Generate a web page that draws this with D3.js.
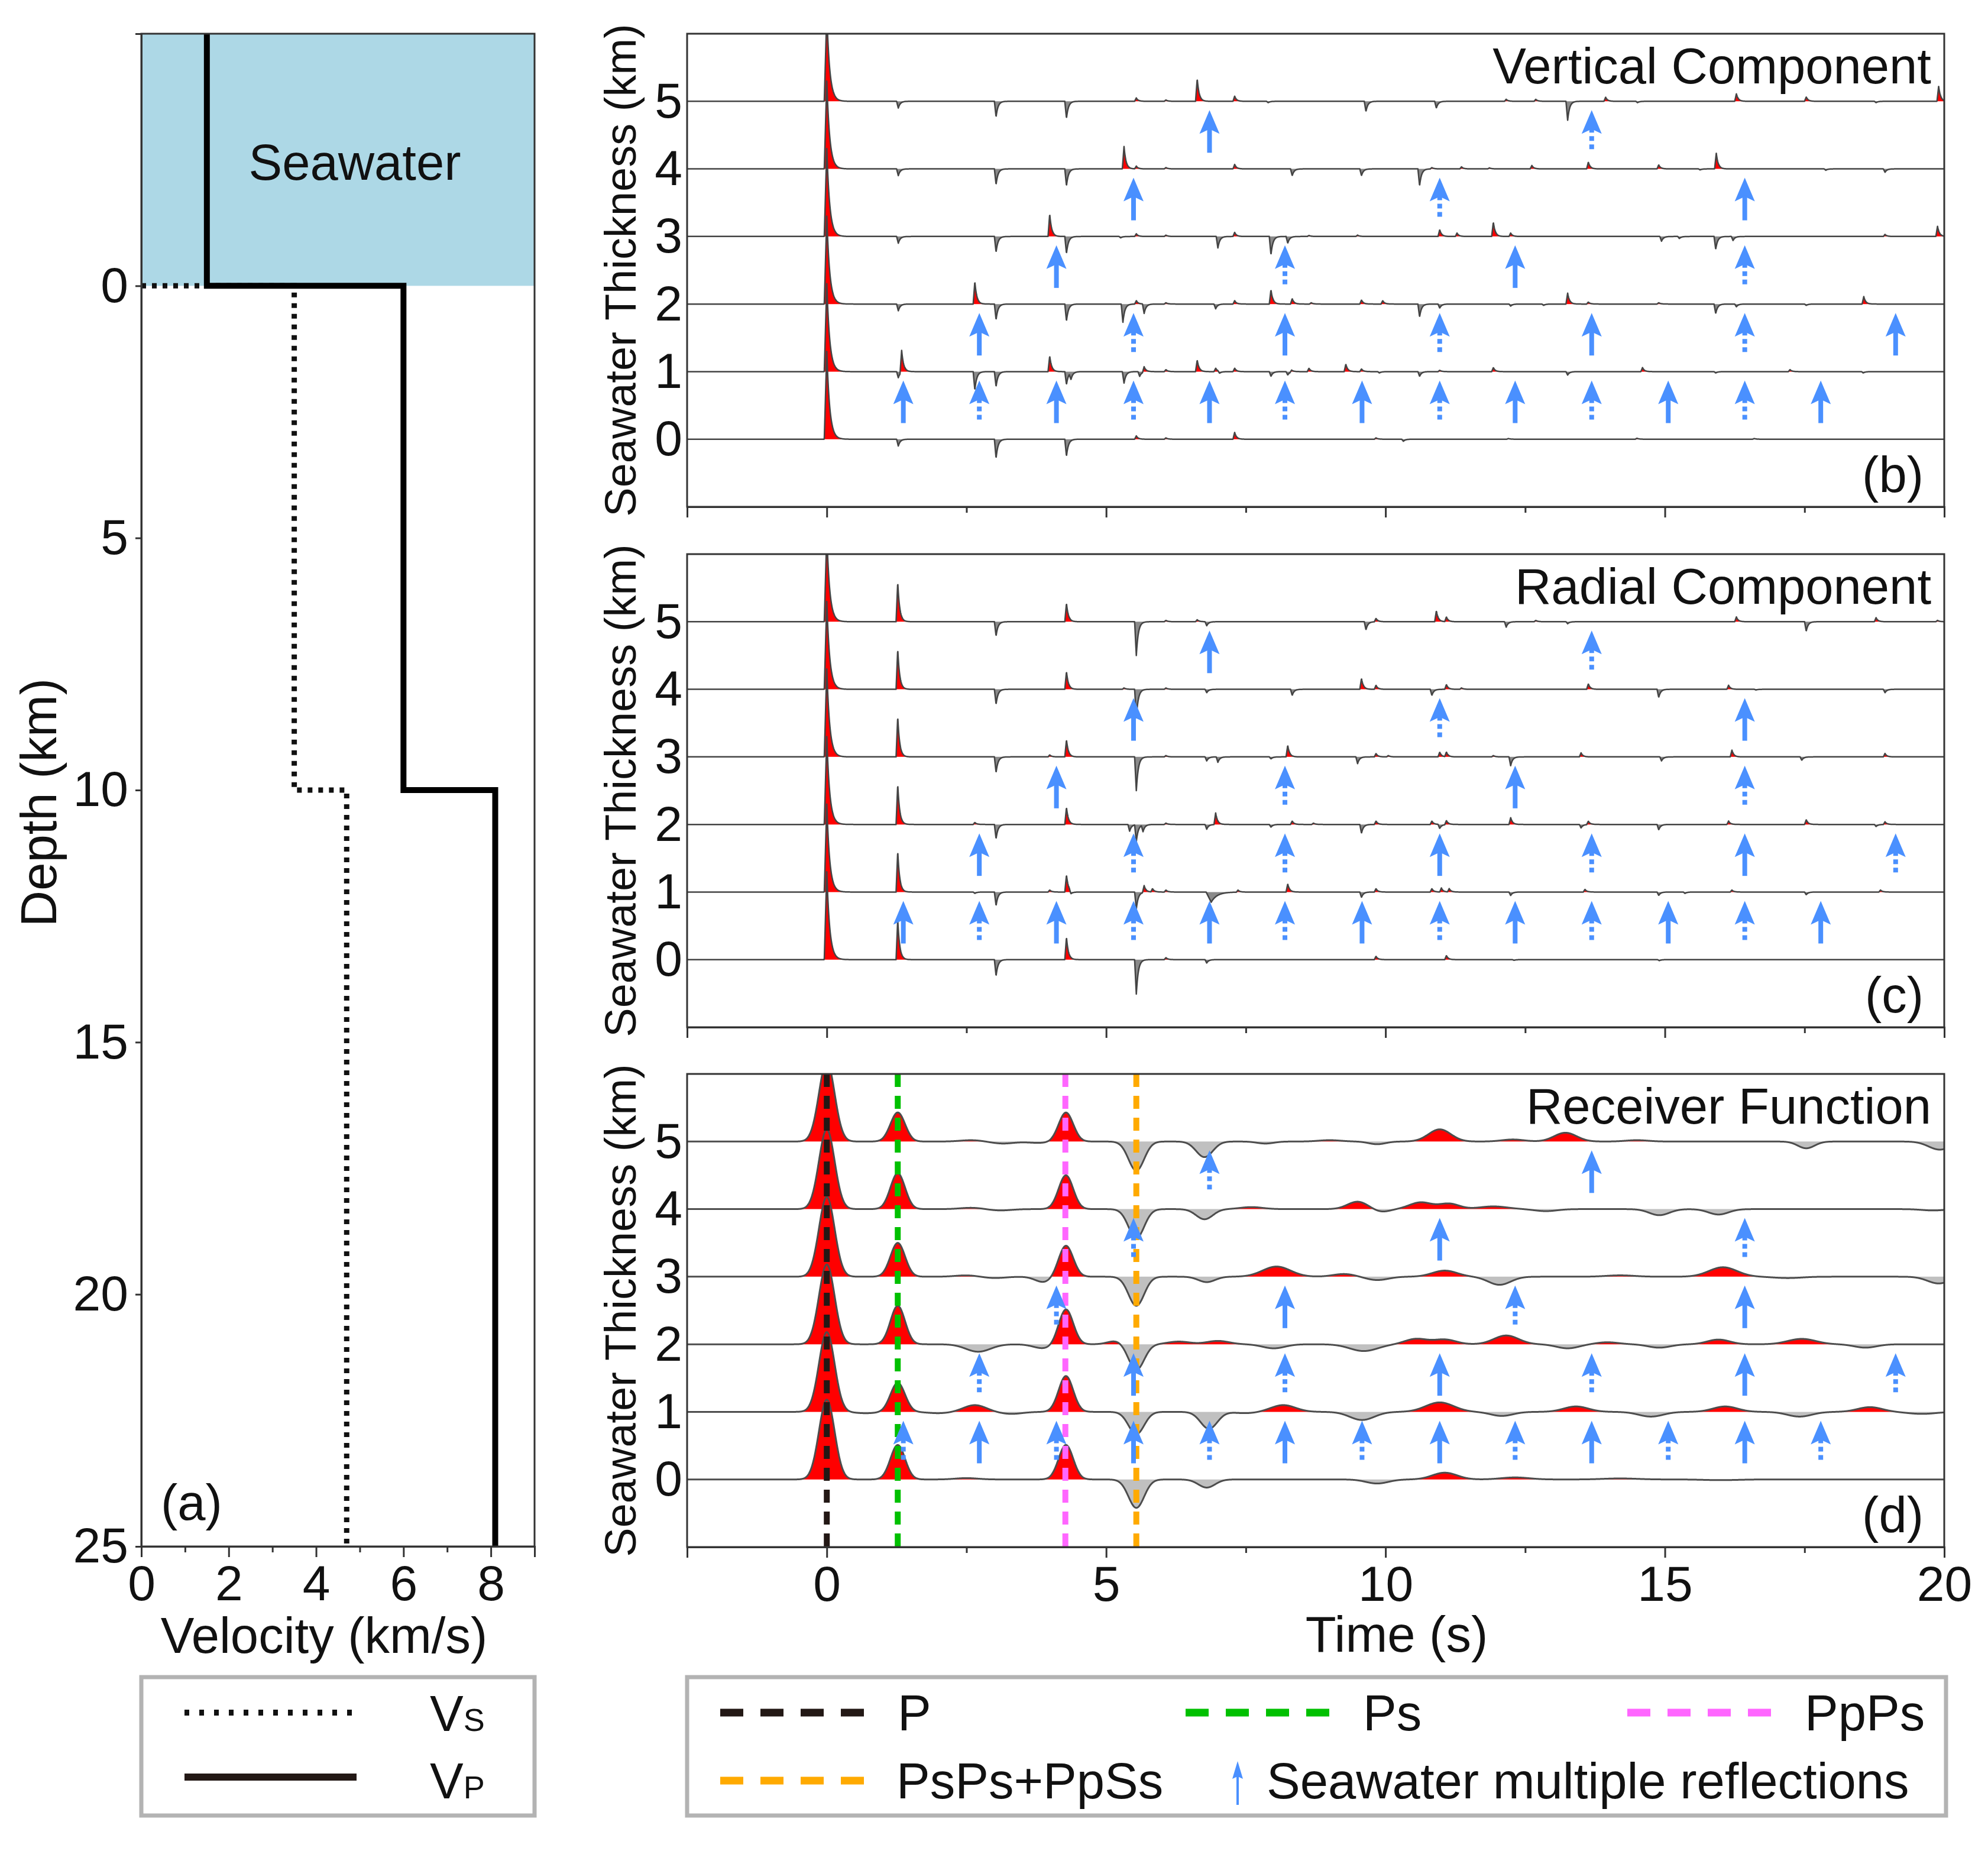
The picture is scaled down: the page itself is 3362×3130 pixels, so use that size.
<!DOCTYPE html>
<html>
<head>
<meta charset="utf-8">
<script src="https://cdn.jsdelivr.net/npm/d3@7"></script>
<style>
body{margin:0;background:#fff}
text{font-family:"Liberation Sans",Arial,sans-serif;fill:#111}
</style>
</head>
<body>
<div id="fig"></div>
<script>
// ---- data ----
var thickness = [0, 1, 2, 3, 4, 5]
var timeTicks = [0, 5, 10, 15, 20]
var timeMinor = [-2.5, 2.5, 7.5, 12.5, 17.5]
var depthTicks = [0, 5, 10, 15, 20, 25]
var velTicks = [0, 2, 4, 6, 8]
var velMinor = [1, 3, 5, 7, 9]

// velocity model (a)
var layerTop = [-5, 0, 10]
var layerBottom = [0, 10, 25]
var vpLayers = [1.5, 6.0, 8.1]
var vsLayers = [0, 3.5, 4.7]

// marked phases in (d)
var phaseNames = ["P", "Ps", "PpPs", "PsPs+PpSs"]
var phaseTimes = [0, 1.27, 4.27, 5.54]

// arrivals [time (s), amplitude, width factor] for seawater thickness 0..5 km
var verticalTraces = [
	[[0,1.3,1.5],[1.28,-0.1],[3.03,-0.28],[4.29,-0.25],[5.54,0.05],[6.07,0.02],[7.3,0.1],[9.83,0.02],[10.32,-0.03],[12.2,0.01],[14.5,0.015],[16.6,0.01]],
	[[0,1.3,1.5],[1.28,-0.09],[1.34,0.33],[2.65,-0.27],[3.03,-0.22],[3.99,0.23],[4.29,-0.19],[4.37,-0.1],[5.32,-0.17],[5.6,-0.07],[5.68,0.08],[6.07,0.03],[6.63,0.17],[6.96,0.05],[7.03,-0.03],[7.3,0.05],[7.95,-0.07],[8.25,-0.05],[8.32,0.03],[8.63,0.05],[9.29,0.11],[9.57,0.04],[9.89,-0.02],[10.61,-0.07],[10.97,0.02],[11.93,0.06],[13.26,-0.05],[14.6,0.06],[15.91,-0.02],[17.24,0.03],[18.55,-0.02]],
	[[0,1.3,1.5],[1.28,-0.1],[2.65,0.33],[3.03,-0.23],[4.29,-0.25],[5.3,-0.27],[5.54,0.05],[5.68,-0.14],[6.07,0.02],[6.96,-0.07],[7.3,0.05],[7.95,0.21],[8.33,0.08],[8.67,0.02],[9.57,0.06],[9.95,0.05],[10.61,-0.19],[10.97,-0.06],[12.24,-0.03],[12.83,-0.02],[13.26,0.16],[13.63,0.03],[14.89,0.02],[15.91,-0.14],[16.28,-0.04],[17.53,-0.02],[18.56,0.11]],
	[[0,1.3,1.5],[1.28,-0.1],[3.03,-0.23],[3.99,0.33],[4.29,-0.25],[5.26,-0.02],[5.54,0.04],[6.07,0.02],[7.0,-0.17],[7.3,0.06],[7.95,-0.27],[8.25,-0.1],[8.63,0.015],[9.5,0.02],[10.97,0.1],[11.28,0.05],[11.93,0.21],[12.24,0.05],[14.94,-0.07],[15.26,-0.03],[15.91,-0.19],[16.22,-0.06],[18.94,0.03],[19.88,0.15]],
	[[0,1.3,1.5],[1.28,-0.1],[3.03,-0.23],[4.29,-0.25],[5.32,0.33],[5.54,0.04],[6.07,0.02],[7.3,0.065],[8.33,-0.1],[9.57,-0.1],[10.61,-0.25],[10.83,0.02],[11.36,0.03],[11.86,0.015],[12.62,0.05],[13.63,0.1],[14.89,0.06],[15.63,-0.015],[15.92,0.23],[17.88,-0.02],[18.94,-0.05]],
	[[0,1.3,1.5],[1.28,-0.1],[3.03,-0.23],[4.29,-0.25],[5.54,0.05],[6.07,0.02],[6.63,0.33],[7.3,0.075],[7.9,-0.02],[9.65,-0.15],[10.91,-0.1],[12.16,0.03],[12.69,0.03],[13.26,-0.28],[13.94,0.06],[14.51,-0.02],[16.28,0.11],[17.53,0.065],[18.78,-0.02],[19.9,0.22]]
]

var radialTraces = [
	[[0,1.3,1.5],[1.27,0.59],[3.03,-0.24],[4.29,0.33],[5.54,-0.51],[6.07,0.03],[6.8,-0.05],[9.83,0.05],[11.09,0.06],[12.3,-0.01],[14.9,-0.015]],
	[[0,1.3,1.5],[1.27,0.6],[2.65,-0.02],[3.03,-0.2],[3.99,0.03],[4.29,0.25],[4.37,-0.05],[5.54,-0.25],[5.68,0.1],[5.83,0.05],[6.07,0.03],[6.88,-0.15,3],[7.36,0.03],[8.25,0.12],[9.57,-0.08],[9.83,0.05],[10.83,0.05],[11.0,0.06],[11.14,0.05],[12.24,-0.05],[13.57,0.04],[14.89,-0.05],[15.36,-0.02],[16.2,0.03],[17.53,-0.04],[18.86,0.03]],
	[[0,1.3,1.5],[1.27,0.59],[2.65,0.03],[3.03,-0.21],[4.29,0.25],[5.42,-0.1],[5.54,-0.25],[5.66,-0.1],[6.07,0.02],[6.8,-0.07],[6.96,0.17],[7.95,-0.04],[8.33,0.05],[8.71,0.02],[9.57,-0.13],[9.83,0.05],[10.83,0.05],[10.97,-0.06],[11.09,0.06],[12.24,0.1],[13.5,-0.05],[13.63,0.05],[14.89,-0.08],[16.14,0.05],[17.53,0.07],[18.78,-0.03],[18.94,0.04]],
	[[0,1.3,1.5],[1.27,0.59],[3.03,-0.23],[3.99,0.03],[4.29,0.25],[5.54,-0.5],[6.07,0.02],[6.8,-0.06],[7.0,-0.08],[7.95,-0.03],[8.25,0.17],[9.5,-0.1],[9.83,0.05],[10.05,0.02],[10.97,0.07],[11.09,0.07],[11.93,0.02],[12.24,-0.13],[13.5,0.06],[14.94,-0.06],[16.2,0.1],[17.45,-0.05],[18.94,0.05]],
	[[0,1.3,1.5],[1.27,0.59],[3.03,-0.22],[4.29,0.26],[5.32,0.02],[5.54,-0.42],[6.07,0.02],[6.8,-0.05],[8.33,-0.09],[9.57,0.16],[9.83,0.06],[10.83,-0.09],[11.09,0.07],[11.36,0.02],[13.63,0.08],[14.89,-0.12],[16.14,0.06],[16.63,-0.01],[18.94,-0.05]],
	[[0,1.3,1.5],[1.27,0.58],[3.03,-0.21],[4.29,0.27],[5.54,-0.5],[6.07,0.02],[6.63,0.03],[6.8,-0.06],[9.65,-0.12],[9.83,0.05],[10.91,0.16],[11.09,0.07],[12.16,-0.08],[12.69,0.02],[13.26,-0.03],[16.28,0.07],[17.53,-0.14],[18.78,0.06],[19.88,0.02]]
]

// receiver functions: [time, amplitude, gaussian sigma (s)]
var rfTraces = [
	[[0,1.18,0.14],[1.27,0.51,0.13],[2.5,0.02,0.2],[4.28,0.51,0.13],[5.54,-0.42,0.14],[6.8,-0.12,0.15],[9.85,-0.06,0.2],[11.06,0.1,0.22],[12.32,0.03,0.25],[14.2,0.015,0.3],[16.0,-0.01,0.3]],
	[[0,1.18,0.14],[0.7,-0.02,0.2],[1.27,0.43,0.13],[2.0,-0.02,0.2],[2.65,0.1,0.2],[3.3,-0.03,0.2],[4.28,0.53,0.13],[5.54,-0.33,0.14],[6.84,-0.25,0.15],[7.5,-0.02,0.2],[8.17,0.1,0.22],[9.58,-0.12,0.22],[10.97,0.14,0.25],[12.08,-0.06,0.2],[13.41,0.08,0.22],[14.75,-0.07,0.22],[16.08,0.08,0.22],[17.41,-0.07,0.22],[18.67,0.07,0.22],[19.6,-0.03,0.25]],
	[[0,1.18,0.14],[1.27,0.57,0.13],[2.71,-0.11,0.22],[3.88,-0.06,0.18],[4.28,0.52,0.13],[5.18,0.05,0.15],[5.54,-0.38,0.14],[6.3,0.04,0.2],[7.0,0.05,0.2],[8.0,-0.06,0.2],[9.61,-0.1,0.25],[10.55,0.08,0.2],[11.06,0.07,0.2],[12.16,0.13,0.22],[13.26,-0.06,0.2],[13.97,0.03,0.2],[14.9,-0.05,0.2],[15.96,0.07,0.2],[17.45,0.08,0.25],[18.59,-0.05,0.2]],
	[[0,1.18,0.14],[1.27,0.5,0.13],[2.5,0.02,0.2],[3.0,-0.02,0.2],[3.88,-0.08,0.15],[4.28,0.46,0.13],[5.54,-0.43,0.14],[6.8,-0.08,0.15],[8.05,0.15,0.25],[9.26,0.04,0.2],[9.85,-0.05,0.2],[11.06,0.09,0.22],[12.04,-0.12,0.2],[14.2,0.02,0.25],[16.04,0.14,0.25],[17.2,-0.02,0.25],[19.9,-0.1,0.2]],
	[[0,1.18,0.14],[1.27,0.53,0.13],[2.59,0.02,0.2],[3.1,-0.02,0.2],[4.28,0.5,0.13],[5.54,-0.43,0.14],[6.76,-0.15,0.15],[7.6,0.03,0.2],[9.5,0.11,0.18],[9.93,-0.04,0.15],[10.63,0.1,0.2],[11.14,0.08,0.18],[11.93,0.04,0.25],[12.87,-0.03,0.2],[14.9,-0.09,0.18],[15.96,-0.08,0.18],[19.8,-0.02,0.2]],
	[[0,1.18,0.14],[1.27,0.43,0.13],[2.59,0.02,0.2],[3.15,-0.03,0.2],[3.8,-0.02,0.2],[4.28,0.43,0.13],[5.54,-0.43,0.14],[6.76,-0.23,0.15],[7.85,-0.03,0.15],[9.0,0.02,0.2],[9.85,-0.04,0.15],[10.97,0.18,0.2],[12.28,0.03,0.2],[13.22,0.13,0.2],[14.5,0.02,0.2],[17.53,-0.1,0.15],[19.92,-0.12,0.2]]
]

// seawater multiples marked by arrows, below trace h: [time, dotted?]
var verticalArrows = [
	[],
	[[1.37,0],[2.73,1],[4.11,0],[5.49,1],[6.85,0],[8.2,1],[9.58,0],[10.97,1],[12.32,0],[13.69,1],[15.06,0],[16.43,1],[17.79,0]],
	[[2.73,0],[5.49,1],[8.2,0],[10.97,1],[13.69,0],[16.43,1],[19.13,0]],
	[[4.11,0],[8.2,1],[12.32,0],[16.43,1]],
	[[5.49,0],[10.97,1],[16.43,0]],
	[[6.85,0],[13.69,1]]
]
var radialArrows = [
	[],
	[[1.37,0],[2.73,1],[4.11,0],[5.49,1],[6.85,0],[8.2,1],[9.58,0],[10.97,1],[12.32,0],[13.69,1],[15.06,0],[16.43,1],[17.79,0]],
	[[2.73,0],[5.49,1],[8.2,1],[10.97,0],[13.69,1],[16.43,0],[19.13,1]],
	[[4.11,0],[8.2,1],[12.32,0],[16.43,1]],
	[[5.49,0],[10.97,1],[16.43,0]],
	[[6.85,0],[13.69,1]]
]
var rfArrows = [
	[],
	[[1.37,1],[2.73,0],[4.11,1],[5.49,0],[6.85,1],[8.2,0],[9.58,1],[10.97,0],[12.32,1],[13.69,0],[15.06,1],[16.43,0],[17.79,1]],
	[[2.73,1],[5.49,0],[8.2,1],[10.97,0],[13.69,1],[16.43,0],[19.13,1]],
	[[4.11,1],[8.2,0],[12.32,1],[16.43,0]],
	[[5.49,1],[10.97,0],[16.43,1]],
	[[6.85,1],[13.69,0]]
]

// ---- styles / layout ----
var phaseColor = {"P":"#231815", "Ps":"#00c000", "PpPs":"#ff66ff", "PsPs+PpSs":"#ffaa00"}
var arrowBlue = "#4a90ff"
var frameColor = "#333"

var svg = d3.select("#fig").append("svg")
	.attr("width", 3362)
	.attr("height", 3130)
	.attr("viewBox", "0 0 3362 3130")

// ================= panel (a) =================
var ax = d3.scaleLinear().domain([0, 9]).range([239, 904])
var ay = d3.scaleLinear().domain([-5, 25]).range([57, 2615])

svg.append("rect")
	.attr("x", ax(0)).attr("y", ay(-5))
	.attr("width", ax(9) - ax(0)).attr("height", ay(0) - ay(-5))
	.attr("fill", "#add8e6")

svg.append("text")
	.attr("x", 600).attr("y", 304)
	.attr("text-anchor", "middle").attr("font-size", 85)
	.text("Seawater")

function stepLine(vals) {
	var pts = []
	vals.forEach(function(v, i) {
		pts.push([v, layerTop[i]])
		pts.push([v, layerBottom[i]])
	})
	return pts
}
var modelLine = d3.line().x(function(d){ return ax(d[0]) }).y(function(d){ return ay(d[1]) })

svg.append("path")
	.attr("d", modelLine(stepLine(vsLayers).slice(1)))
	.attr("fill", "none").attr("stroke", "#111")
	.attr("stroke-width", 9).attr("stroke-dasharray", "8,10")

svg.append("path")
	.attr("d", modelLine(stepLine(vpLayers)))
	.attr("fill", "none").attr("stroke", "#000")
	.attr("stroke-width", 10).attr("stroke-linejoin", "miter")

svg.append("rect")
	.attr("x", ax(0)).attr("y", ay(-5))
	.attr("width", ax(9) - ax(0)).attr("height", ay(25) - ay(-5))
	.attr("fill", "none").attr("stroke", frameColor).attr("stroke-width", 3)

svg.append("g").attr("transform", "translate(0," + ay(25) + ")")
	.call(d3.axisBottom(ax).tickValues(velTicks).tickSize(18).tickPadding(13).tickFormat(d3.format("d")))
svg.append("g").attr("transform", "translate(0," + ay(25) + ")")
	.call(d3.axisBottom(ax).tickValues(velMinor).tickSize(10).tickFormat(""))
svg.append("g").attr("transform", "translate(" + ax(0) + ",0)")
	.call(d3.axisLeft(ay).tickValues(depthTicks).tickSize(10).tickPadding(12).tickFormat(d3.format("d")))

svg.append("text")
	.attr("x", 548).attr("y", 2795)
	.attr("text-anchor", "middle").attr("font-size", 85)
	.text("Velocity (km/s)")
svg.append("text")
	.attr("transform", "translate(95," + 1357 + ") rotate(-90)")
	.attr("text-anchor", "middle").attr("font-size", 85)
	.text("Depth (km)")
svg.append("text")
	.attr("x", 272).attr("y", 2570).attr("font-size", 85)
	.text("(a)")

// legend (a)
svg.append("rect")
	.attr("x", 239).attr("y", 2836).attr("width", 665).attr("height", 234)
	.attr("fill", "#fff").attr("stroke", "#b3b3b3").attr("stroke-width", 7)
svg.append("line")
	.attr("x1", 312).attr("x2", 603).attr("y1", 2896).attr("y2", 2896)
	.attr("stroke", "#111").attr("stroke-width", 10).attr("stroke-dasharray", "8,17")
svg.append("line")
	.attr("x1", 312).attr("x2", 603).attr("y1", 3005).attr("y2", 3005)
	.attr("stroke", "#231815").attr("stroke-width", 12)
svg.append("text").attr("x", 727).attr("y", 2927).attr("font-size", 85)
	.text("V").append("tspan").attr("font-size", 54).text("S")
svg.append("text").attr("x", 727).attr("y", 3041).attr("font-size", 85)
	.text("V").append("tspan").attr("font-size", 54).text("P")

// ================= trace panels =================
var tx = d3.scaleLinear().domain([-2.5, 20]).range([1162, 3288])
var panelTops = [57, 937, 1816]
var panelH = 800
var dt = 0.004
var times = d3.range(-2.5, 20 + dt / 2, dt)

function spikeWave(events) {
	return times.map(function(t) {
		var v = 0
		events.forEach(function(e) {
			var w = e[2] || 1
			var rise = 0.03 * w, tau = 0.035 * w
			var d = t - e[0]
			if (d < -rise) return
			if (d < 0) v += e[1] * (1 + d / rise)
			else if (d < 12 * tau) v += e[1] * Math.exp(-d / tau)
		})
		return {t: t, v: v}
	})
}
function gaussWave(events) {
	return times.map(function(t) {
		var v = 0
		events.forEach(function(e) {
			var d = (t - e[0]) / e[2]
			if (Math.abs(d) < 6) v += e[1] * Math.exp(-0.5 * d * d)
		})
		return {t: t, v: v}
	})
}

var panels = [
	{title: "Vertical Component", tag: "(b)", traces: verticalTraces, arrows: verticalArrows, wave: spikeWave, neg: "#8a8a8a", line: "#444", lw: 2.5},
	{title: "Radial Component", tag: "(c)", traces: radialTraces, arrows: radialArrows, wave: spikeWave, neg: "#8a8a8a", line: "#444", lw: 2.5},
	{title: "Receiver Function", tag: "(d)", traces: rfTraces, arrows: rfArrows, wave: gaussWave, neg: "#c0c0c0", line: "#4d4d4d", lw: 3, phases: true}
]

panels.forEach(function(p, pi) {
	var top = panelTops[pi]
	var ty = d3.scaleLinear().domain([-1, 6]).range([top + panelH, top])
	var g = svg.append("g")

	g.append("clipPath").attr("id", "clip" + pi)
		.append("rect")
		.attr("x", tx(-2.5)).attr("y", top)
		.attr("width", tx(20) - tx(-2.5)).attr("height", panelH)

	var body = g.append("g").attr("clip-path", "url(#clip" + pi + ")")

	// top trace first so lower traces sit over it
	thickness.slice().reverse().forEach(function(h) {
		var wave = p.wave(p.traces[h])
		var tg = body.append("g")
		tg.append("path")
			.datum(wave)
			.attr("fill", "#ff0000")
			.attr("d", d3.area()
				.x(function(d){ return tx(d.t) })
				.y0(ty(h))
				.y1(function(d){ return ty(h + Math.max(0, d.v)) }))
		tg.append("path")
			.datum(wave)
			.attr("fill", p.neg)
			.attr("d", d3.area()
				.x(function(d){ return tx(d.t) })
				.y0(ty(h))
				.y1(function(d){ return ty(h + Math.min(0, d.v)) }))
		tg.append("path")
			.datum(wave)
			.attr("fill", "none")
			.attr("stroke", p.line)
			.attr("stroke-width", p.lw)
			.attr("stroke-linejoin", "round")
			.attr("d", d3.line()
				.x(function(d){ return tx(d.t) })
				.y(function(d){ return ty(h + d.v) }))
	})

	if (p.phases) {
		body.selectAll(".phase")
			.data(phaseNames)
			.enter()
			.append("line")
			.attr("x1", function(d, i){ return tx(phaseTimes[i]) })
			.attr("x2", function(d, i){ return tx(phaseTimes[i]) })
			.attr("y1", top)
			.attr("y2", top + panelH)
			.attr("stroke", function(d){ return phaseColor[d] })
			.attr("stroke-width", 10)
			.attr("stroke-dasharray", "22,15")
	}

	// arrows
	thickness.forEach(function(h) {
		p.arrows[h].forEach(function(a) {
			drawArrow(g, tx(a[0]), ty(h) + 15, a[1])
		})
	})

	g.append("rect")
		.attr("x", tx(-2.5)).attr("y", top)
		.attr("width", tx(20) - tx(-2.5)).attr("height", panelH)
		.attr("fill", "none").attr("stroke", frameColor).attr("stroke-width", 3)

	g.append("g").attr("transform", "translate(0," + (top + panelH) + ")")
		.call(d3.axisBottom(tx).tickValues(timeTicks).tickSize(18).tickPadding(13)
			.tickFormat(pi == 2 ? d3.format("d") : ""))
	g.append("g").attr("transform", "translate(0," + (top + panelH) + ")")
		.call(d3.axisBottom(tx).tickValues(timeMinor).tickSize(10).tickFormat(""))
	g.append("g").attr("transform", "translate(" + tx(-2.5) + ",0)")
		.call(d3.axisLeft(ty).tickValues(thickness).tickSize(0).tickPadding(8).tickFormat(d3.format("d")))
		.select(".domain").remove()

	g.append("text")
		.attr("transform", "translate(1075," + (top + panelH / 2) + ") rotate(-90)")
		.attr("text-anchor", "middle").attr("font-size", 74)
		.text("Seawater Thickness (km)")
	g.append("text")
		.attr("x", 3266).attr("y", top + 84)
		.attr("text-anchor", "end").attr("font-size", 85)
		.text(p.title)
	g.append("text")
		.attr("x", 3253).attr("y", top + 775)
		.attr("text-anchor", "end").attr("font-size", 85)
		.text(p.tag)
})

function drawArrow(g, x, yTip, dotted) {
	var head = 40, half = 17, notch = 8, shaftW = 8, len = 72
	g.append("path")
		.attr("d", "M" + x + "," + yTip +
			"L" + (x + half) + "," + (yTip + head) +
			"L" + x + "," + (yTip + head - notch) +
			"L" + (x - half) + "," + (yTip + head) + "Z")
		.attr("fill", arrowBlue)
	g.append("line")
		.attr("x1", x).attr("x2", x)
		.attr("y1", yTip + head - notch - 2)
		.attr("y2", yTip + len)
		.attr("stroke", arrowBlue)
		.attr("stroke-width", shaftW)
		.attr("stroke-dasharray", dotted ? "8,6" : null)
}

svg.append("text")
	.attr("x", 2362).attr("y", 2793)
	.attr("text-anchor", "middle").attr("font-size", 85)
	.text("Time (s)")

// axis styling
svg.selectAll(".tick text").attr("font-size", 84).attr("fill", "#111")
	.style("font-family", "'Liberation Sans', Arial, sans-serif")
svg.selectAll(".tick line").attr("stroke", frameColor).attr("stroke-width", 3)
svg.selectAll(".domain").attr("stroke", frameColor).attr("stroke-width", 3)

// legend (b-d)
svg.append("rect")
	.attr("x", 1162).attr("y", 2836).attr("width", 2129).attr("height", 234)
	.attr("fill", "#fff").attr("stroke", "#b3b3b3").attr("stroke-width", 7)

var legendSlots = [[1218, 2896], [2005, 2896], [2752, 2896], [1218, 3011]]
phaseNames.forEach(function(name, i) {
	var s = legendSlots[i]
	svg.append("line")
		.attr("x1", s[0]).attr("x2", s[0] + 243)
		.attr("y1", s[1]).attr("y2", s[1])
		.attr("stroke", phaseColor[name]).attr("stroke-width", 13)
		.attr("stroke-dasharray", "39,29")
	svg.append("text")
		.attr("x", s[0] + (i == 3 ? 298 : 300)).attr("y", s[1] + 30)
		.attr("font-size", 85).attr("fill", "#231815")
		.text(name)
})
svg.append("path")
	.attr("d", "M2093,2978 L2102,3008 L2093,3004 L2084,3008 Z")
	.attr("fill", arrowBlue)
svg.append("line")
	.attr("x1", 2093).attr("x2", 2093).attr("y1", 3002).attr("y2", 3052)
	.attr("stroke", arrowBlue).attr("stroke-width", 4)
svg.append("text")
	.attr("x", 2142).attr("y", 3041).attr("font-size", 85).attr("fill", "#231815")
	.text("Seawater multiple reflections")
</script>
</body>
</html>
